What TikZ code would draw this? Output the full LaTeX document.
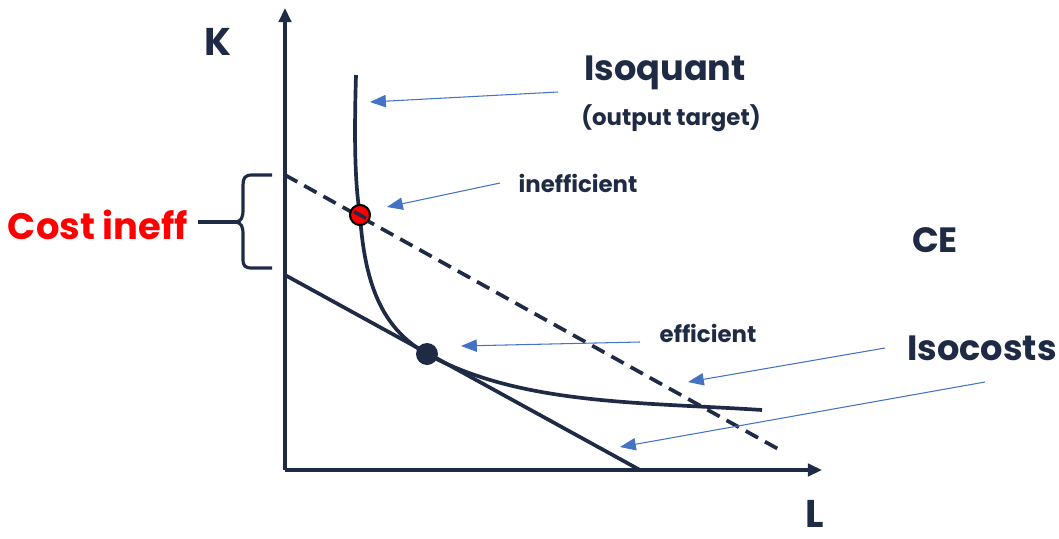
\documentclass[tikz,border=0pt]{standalone}
\usepackage{fontspec}
\setmainfont{Poppins}
\usetikzlibrary{arrows.meta,calc}
\definecolor{navy}{HTML}{1F2A44}
\definecolor{lblue}{HTML}{4472C4}
\begin{document}
\begin{tikzpicture}[x=0.02cm,y=-0.02cm,
  axis/.style={navy,line width=2pt,-{Triangle[length=8pt,width=7pt]}},
  curve/.style={navy,line width=2.1pt},
  pointer/.style={lblue,line width=0.6pt,-{Triangle[length=9pt,width=7pt]}},
  lbl/.style={navy,font=\bfseries,inner sep=0pt}]
\useasboundingbox (0,0) rectangle (1059,538);
% axes
\coordinate (O) at (285,470);
\coordinate (Ktop) at (285,8);
\coordinate (Lend) at (822,470);
\draw[axis] (O) -- (Ktop);
\draw[axis] (O) -- (Lend);
\node[lbl,font=\bfseries\fontsize{22}{24}\selectfont] (K) at (218,42) {K};
\node[lbl,font=\bfseries\fontsize{22}{24}\selectfont] (L) at (815,514) {L};
% isocosts
\coordinate (s1) at (285,275);
\coordinate (s2) at (640,470);
\coordinate (d1) at (285,175);
\coordinate (d2) at (780,450);
\draw[curve,line cap=butt] (s1) -- (s2);
\draw[curve,dash pattern=on 8pt off 4.5pt] (d1) -- (d2);
% isoquant
\coordinate (q0) at (356,75);
\coordinate (qi) at (360,215);
\coordinate (qe) at (427,354);
\coordinate (q3) at (762,410);
\draw[curve] (q0) .. controls (354,140) and (355,185) .. (qi)
  .. controls (365,290) and (385,330) .. (qe)
  .. controls (520,405) and (640,402) .. (q3);
\node[circle,draw=black,line width=1.2pt,fill=red,minimum size=0.4cm,inner sep=0pt] (ineffdot) at (qi) {};
\draw[navy,line width=2pt] ($(ineffdot.center)+(-6,-3.3)$) -- ($(ineffdot.center)+(6,3.3)$);
\node[circle,fill=navy,minimum size=0.44cm,inner sep=0pt] (effdot) at (qe) {};
% labels
\node[lbl,font=\bfseries\fontsize{20}{22}\selectfont] (iso) at (665,73) {Isoquant};
\node[lbl,font=\bfseries\fontsize{13}{15}\selectfont] (tgt) at (671,118) {(output target)};
\node[lbl,font=\bfseries\fontsize{13}{15}\selectfont] (ineff) at (578,183) {inefficient};
\node[lbl,font=\bfseries\fontsize{13}{15}\selectfont] (eff) at (708,333) {efficient};
\node[lbl,font=\bfseries\fontsize{20}{22}\selectfont] (CE) at (935,240) {CE};
\node[lbl,font=\bfseries\fontsize{20}{22}\selectfont] (isoc) at (982,348) {Isocosts};
\node[lbl,text=red,font=\bfseries\fontsize{21}{23}\selectfont] (cost) at (98,225) {Cost ineff};
% pointers
\coordinate (a1s) at (558,92); \coordinate (a1e) at (370,102);
\coordinate (a2s) at (500,183); \coordinate (a2e) at (387,207);
\coordinate (a3s) at (640,342); \coordinate (a3e) at (461,346);
\coordinate (a4s) at (885,348); \coordinate (a4e) at (688,382);
\coordinate (a5s) at (985,382); \coordinate (a5e) at (620,447);
\draw[pointer] (a1s) -- (a1e);
\draw[pointer] (a2s) -- (a2e);
\draw[pointer] (a3s) -- (a3e);
\draw[pointer] (a4s) -- (a4e);
\draw[pointer] (a5s) -- (a5e);
% brace
\coordinate (btip) at (236,222);
\coordinate (bline) at (198,222);
\draw[navy,line width=1.8pt] (272,175) -- (252,175) .. controls (245,175) and (243,178) .. (243,185)
  -- (243,210) .. controls (243,218) and (241,221) .. (btip)
  .. controls (241,223) and (243,226) .. (243,234)
  -- (243,259) .. controls (243,266) and (245,268) .. (252,268) -- (272,268);
\draw[navy,line width=1.8pt] (bline) -- (btip);
\end{tikzpicture}
\end{document}
